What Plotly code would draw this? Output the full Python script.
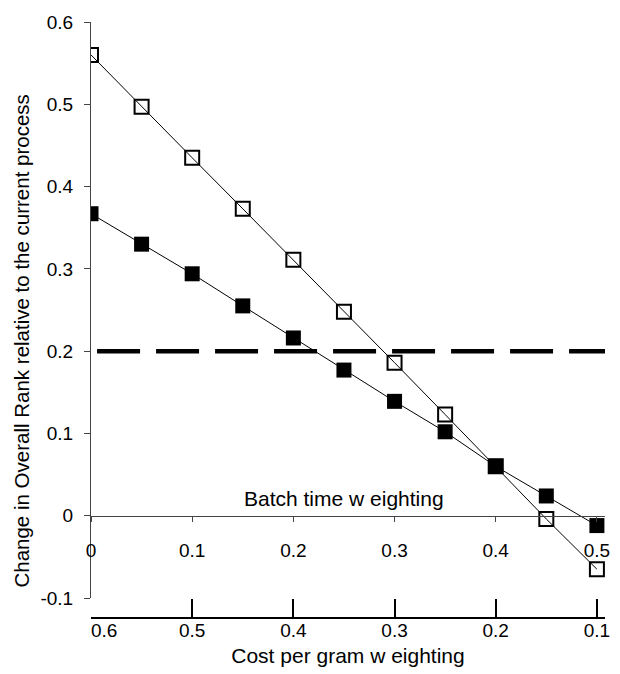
import plotly.graph_objects as go

# Batch time weighting (top scale); cost per gram weighting runs the other way
batch_weight = [0.0, 0.05, 0.1, 0.15, 0.2, 0.25, 0.3, 0.35, 0.4, 0.45, 0.5]
open_series = [0.560, 0.497, 0.435, 0.373, 0.311, 0.248, 0.186, 0.123, 0.060, -0.004, -0.065]
filled_series = [0.367, 0.330, 0.294, 0.255, 0.216, 0.177, 0.139, 0.102, 0.060, 0.024, -0.012]

threshold = 0.2
threshold_x = [0.006, 0.508]

batch_ticks = [0.0, 0.1, 0.2, 0.3, 0.4, 0.5]
batch_ticktext = ["0", "0.1", "0.2", "0.3", "0.4", "0.5"]
cost_ticks = [0.6, 0.5, 0.4, 0.3, 0.2, 0.1]
# first label nudged right, clear of the vertical axis
cost_ticktext = ["\u00a0" * 5 + "0.6", "0.5", "0.4", "0.3", "0.2", "0.1"]
y_ticks = [-0.1, 0.0, 0.1, 0.2, 0.3, 0.4, 0.5, 0.6]
y_ticktext = ["-0.1", "0", "0.1", "0.2", "0.3", "0.4", "0.5", "0.6"]

W, H = 620, 674
ML, MR, MT, MB = 91, 10, 22, 56
y_range = [-0.1, 0.6]
x_range = [0.0, 0.508]
cost_total = 0.6  # cost weighting = cost_total - batch weighting
y_dom0 = 20 / (H - MT - MB)
zero_pos = y_dom0 + (0 - y_range[0]) / (y_range[1] - y_range[0]) * (1 - y_dom0)

FONT = "Liberation Sans, Arial, sans-serif"

fig = go.Figure()

fig.add_trace(go.Scatter(
    x=threshold_x, y=[threshold, threshold], mode="lines",
    line=dict(color="black", width=4.5, dash="43px,16px"),
    showlegend=False, hoverinfo="skip",
))
fig.add_trace(go.Scatter(
    x=batch_weight, y=filled_series, mode="lines+markers",
    line=dict(color="black", width=1),
    marker=dict(symbol="square", size=15, color="black"),
    showlegend=False,
))
fig.add_trace(go.Scatter(
    x=batch_weight, y=open_series, mode="lines+markers",
    line=dict(color="black", width=1),
    marker=dict(symbol="square-open", size=14, color="black", line=dict(width=2)),
    showlegend=False,
))
# empty trace so the cost-per-gram scale is drawn
fig.add_trace(go.Scatter(x=[], y=[], xaxis="x2", showlegend=False))

fig.update_layout(
    width=W, height=H,
    margin=dict(l=ML, r=MR, t=MT, b=MB),
    paper_bgcolor="white", plot_bgcolor="white",
    font=dict(family=FONT, size=19, color="black"),
    xaxis=dict(
        range=x_range, anchor="free", position=zero_pos, side="bottom",
        showgrid=False, zeroline=False,
        showline=True, linewidth=1, linecolor="#444",
        ticks="outside", ticklen=5, tickwidth=1, tickcolor="#444",
        tickvals=batch_ticks, ticktext=batch_ticktext,
        ticklabelstandoff=12,
        tickfont=dict(size=19),
    ),
    xaxis2=dict(
        range=[cost_total - x_range[0], cost_total - x_range[1]],
        overlaying="x", anchor="free", position=0, side="bottom",
        showgrid=False, zeroline=False,
        showline=True, linewidth=2, linecolor="black",
        ticks="inside", ticklen=18, tickwidth=2, tickcolor="black",
        tickvals=cost_ticks, ticktext=cost_ticktext,
        ticklabelstandoff=-5,
        tickfont=dict(size=19),
        title=dict(text="Cost per gram w eighting", font=dict(size=21), standoff=8),
    ),
    yaxis=dict(
        range=y_range, domain=[y_dom0, 1],
        showgrid=False, zeroline=False,
        showline=True, linewidth=1, linecolor="#444",
        ticks="outside", ticklen=6, tickwidth=1, tickcolor="#444",
        tickvals=y_ticks, ticktext=y_ticktext,
        ticklabelstandoff=7,
        tickfont=dict(size=19),
    ),
    annotations=[
        dict(text="Batch time w eighting", x=0.25, y=0, xref="x", yref="y",
             xanchor="center", yanchor="bottom", yshift=4, showarrow=False,
             font=dict(size=21)),
        dict(text="Change in Overall Rank relative to the current process",
             x=-(ML - 21) / (W - ML - MR), y=0.465, xref="paper", yref="paper",
             xanchor="center", yanchor="middle", textangle=-90, showarrow=False,
             font=dict(size=20.5)),
    ],
)

fig.write_html("out.html")
